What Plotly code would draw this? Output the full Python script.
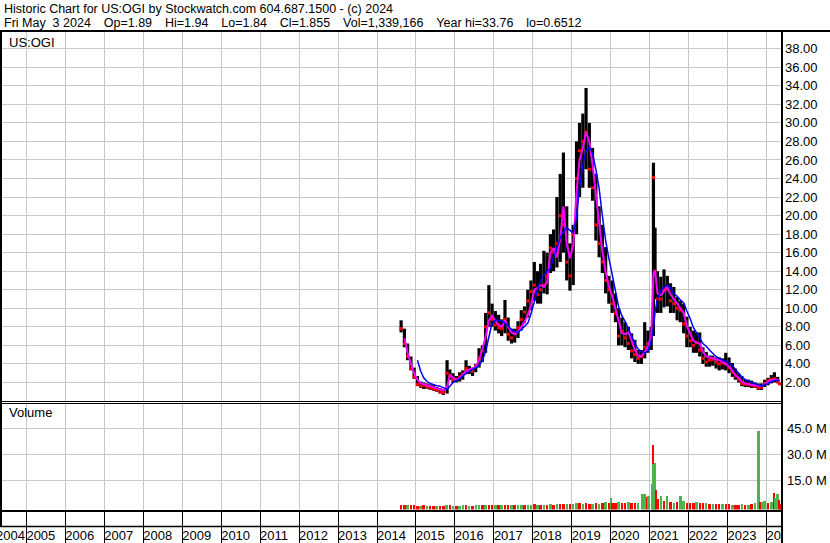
import plotly.graph_objects as go

W, H = 830, 543

# ---------------- data ----------------
price_dates = [
    "2014-08-15", "2014-09-15", "2014-10-15", "2014-11-15", "2014-12-15",
    "2015-01-15", "2015-02-15", "2015-03-15", "2015-04-15", "2015-05-15", "2015-06-15",
    "2015-07-15", "2015-08-15", "2015-09-15", "2015-10-20", "2015-11-15", "2015-12-15",
    "2016-01-15", "2016-02-15", "2016-03-15", "2016-04-15", "2016-05-15", "2016-06-15",
    "2016-07-15", "2016-08-15", "2016-09-15", "2016-10-15", "2016-11-15", "2016-12-15",
    "2017-01-15", "2017-02-15", "2017-03-15", "2017-04-15", "2017-05-15", "2017-06-15",
    "2017-07-15", "2017-08-15", "2017-09-15", "2017-10-15", "2017-11-15", "2017-12-15",
    "2018-01-15", "2018-02-15", "2018-03-15", "2018-04-15", "2018-05-15", "2018-06-15",
    "2018-07-15", "2018-08-15", "2018-09-15", "2018-10-15", "2018-11-15", "2018-12-15",
    "2019-01-15", "2019-02-15", "2019-03-15", "2019-04-15", "2019-05-15", "2019-06-15",
    "2019-07-15", "2019-08-15", "2019-09-15", "2019-10-15", "2019-11-15", "2019-12-15",
    "2020-01-15", "2020-02-15", "2020-03-15", "2020-04-15", "2020-05-15", "2020-06-15",
    "2020-07-15", "2020-08-15", "2020-09-15", "2020-10-15", "2020-11-15", "2020-12-15",
    "2021-01-15", "2021-02-05", "2021-02-20", "2021-03-15", "2021-04-15", "2021-05-15",
    "2021-06-15", "2021-07-15", "2021-08-15", "2021-09-15", "2021-10-15", "2021-11-15",
    "2021-12-15",
    "2022-01-15", "2022-02-15", "2022-03-15", "2022-04-15", "2022-05-15", "2022-06-15",
    "2022-07-15", "2022-08-15", "2022-09-15", "2022-10-15", "2022-11-15", "2022-12-15",
    "2023-01-15", "2023-02-15", "2023-03-15", "2023-04-15", "2023-05-15", "2023-06-15",
    "2023-07-15", "2023-08-15", "2023-09-15", "2023-10-15", "2023-11-15", "2023-12-15",
    "2024-01-15", "2024-02-15", "2024-03-15", "2024-04-15", "2024-05-02",
]
price_high = [
    8.7, 7.8, 6.2, 4.8, 3.6,
    2.7, 2.1, 2.0, 1.9, 1.8, 1.7, 1.5, 1.4, 1.3, 4.4, 3.4, 3.0,
    2.7, 3.1, 3.3, 4.4, 3.8, 3.6, 4.0, 5.7, 6.0, 9.5, 12.5, 10.5,
    9.7, 9.3, 8.8, 10.9, 9.0, 7.8, 7.8, 8.6, 9.8, 10.2, 12.0, 13.0,
    15.0, 14.0, 14.8, 16.2, 16.0, 18.0, 18.5, 22.0, 24.5, 26.8, 21.0, 17.0,
    19.0, 28.0, 30.0, 31.0, 33.76, 30.0, 27.3, 24.5, 21.0, 19.0, 16.6, 13.5,
    13.0, 11.6, 10.0, 9.0, 8.5, 8.0, 7.3, 6.6, 5.5, 5.5, 8.5, 7.6,
    8.0, 25.7, 18.7, 14.0, 13.4, 14.2, 13.5, 12.7, 12.3, 11.2, 10.8, 10.5, 9.1,
    8.0, 7.6, 7.4, 7.4, 5.8, 5.3, 4.9, 4.9, 4.7, 4.7, 4.6, 5.2,
    4.7, 4.1, 3.5, 3.0, 2.7, 2.3, 2.3, 2.2, 2.0, 1.9, 1.9, 2.3,
    2.5, 2.8, 3.1, 2.6, 1.94,
]
price_low = [
    7.4, 5.8, 4.4, 3.3, 2.4,
    1.6, 1.4, 1.3, 1.3, 1.2, 1.1, 1.0, 0.8, 0.65, 0.8, 2.3, 2.0,
    2.0, 2.1, 2.3, 2.9, 2.9, 2.7, 3.1, 3.6, 4.2, 5.2, 8.0, 8.0,
    7.6, 7.3, 7.0, 7.3, 6.5, 6.2, 6.3, 6.8, 7.6, 8.4, 9.0, 9.8,
    10.8, 10.5, 10.5, 11.6, 11.5, 13.8, 14.0, 14.4, 15.0, 16.0, 13.0, 11.9,
    12.5, 18.0, 22.0, 23.0, 25.0, 23.0, 21.6, 17.3, 15.5, 13.8, 11.6, 10.5,
    9.5, 8.5, 6.0, 6.0, 5.8, 5.5, 4.6, 4.2, 4.0, 4.0, 4.6, 5.2,
    5.5, 7.0, 11.0, 9.5, 9.5, 10.1, 10.2, 9.5, 9.5, 8.7, 8.5, 7.3, 5.8,
    5.8, 5.2, 5.2, 4.8, 4.0, 3.7, 3.7, 3.8, 3.5, 3.3, 3.4, 3.3,
    3.0, 2.6, 2.3, 2.0, 1.6, 1.5, 1.5, 1.4, 1.4, 1.2, 1.2, 1.5,
    1.7, 1.9, 2.0, 1.9, 1.84,
]
price_close = [
    7.8, 6.2, 4.8, 3.5, 2.6,
    1.8, 1.6, 1.7, 1.5, 1.4, 1.3, 1.2, 1.0, 0.9, 3.0, 2.7, 2.3,
    2.3, 2.6, 2.9, 3.5, 3.3, 3.2, 3.8, 4.6, 5.4, 8.0, 9.5, 8.8,
    8.2, 7.9, 7.8, 8.8, 7.2, 6.8, 7.3, 7.9, 8.8, 9.6, 10.8, 11.8,
    12.5, 11.5, 12.0, 12.5, 13.5, 16.5, 16.0, 17.0, 20.0, 19.0, 15.0, 13.5,
    18.0, 24.0, 27.0, 28.0, 29.0, 25.0, 23.0, 19.0, 17.0, 15.0, 13.0, 12.0,
    10.5, 9.5, 7.0, 7.5, 6.8, 6.2, 5.4, 5.0, 4.6, 4.8, 5.8, 6.2,
    7.0, 24.1, 14.0, 11.0, 11.0, 12.0, 12.0, 10.8, 10.5, 10.0, 9.8, 8.3, 7.0,
    6.5, 6.0, 6.3, 5.5, 4.6, 4.2, 4.4, 4.5, 4.2, 4.0, 4.1, 4.0,
    3.6, 3.1, 2.7, 2.3, 1.9, 1.8, 1.8, 1.7, 1.6, 1.4, 1.5, 1.9,
    2.2, 2.3, 2.4, 2.1, 1.855,
]
ma_short = [  # magenta average
    None, 6.8, 5.2, 4.0, 3.0,
    2.3, 1.9, 1.8, 1.7, 1.6, 1.5, 1.4, 1.25, 1.15, 1.5, 2.8, 2.5,
    2.3, 2.5, 2.8, 3.2, 3.4, 3.5, 3.7, 4.4, 5.6, 6.9, 8.7, 9.2,
    8.6, 8.2, 8.0, 8.7, 8.0, 7.4, 7.2, 7.5, 8.0, 8.5, 9.3, 10.3,
    12.0, 12.2, 12.5, 12.3, 12.8, 16.0, 16.5, 15.5, 17.5, 21.0, 17.0, 15.4,
    16.8, 22.5, 26.0, 27.3, 29.0, 28.0, 25.5, 22.5, 19.0, 16.2, 13.9, 12.4,
    11.3, 10.0, 8.5, 7.3, 7.2, 7.4, 6.5, 5.5, 4.9, 4.8, 5.3, 5.8,
    7.0, 13.7, 14.1, 11.6, 11.4, 11.9, 12.3, 11.5, 11.0, 10.6, 10.0, 9.5, 8.1,
    7.2, 6.5, 6.3, 6.2, 5.3, 4.8, 4.7, 4.6, 4.5, 4.4, 4.2, 4.0,
    3.7, 3.3, 2.8, 2.5, 2.1, 1.9, 1.8, 1.75, 1.7, 1.6, 1.6, 1.8,
    2.1, 2.3, 2.3, 2.3, 2.2,
]
ma_long = [  # blue average
    None, None, None, None, None,
    4.4, 3.2, 2.5, 2.1, 1.9, 1.75, 1.65, 1.6, 1.45, 1.25, 1.6, 2.0,
    2.2, 2.4, 2.7, 3.0, 3.2, 3.4, 3.6, 3.8, 4.4, 5.3, 6.9, 8.4,
    8.7, 8.7, 8.6, 8.4, 8.1, 7.7, 7.5, 7.4, 7.7, 8.0, 8.4, 9.4,
    10.8, 12.0, 13.0, 13.6, 14.0, 14.3, 15.5, 16.5, 17.6, 18.3, 18.7, 18.4,
    18.1, 19.8, 23.0, 25.5, 27.0, 27.4, 26.7, 25.0, 22.9, 20.0, 17.3, 15.4,
    13.5, 11.8, 10.2, 9.2, 8.6, 7.8, 7.0, 6.2, 5.6, 5.3, 5.2, 5.4,
    6.5, 7.8, 9.6, 11.0, 11.9, 12.3, 12.5, 12.2, 11.6, 11.3, 10.9, 10.6, 9.7,
    8.9, 7.9, 7.3, 6.8, 6.2, 5.9, 5.5, 5.1, 4.8, 4.6, 4.4, 4.3,
    4.1, 3.8, 3.4, 3.0, 2.6, 2.3, 2.15, 2.0, 1.85, 1.7, 1.6, 1.75,
    1.9, 2.1, 2.2, 2.2, 2.2,
]

vol_dates = [
    "2014-08-15", "2014-09-15", "2014-10-15", "2014-11-15", "2014-12-15",
    "2015-01-15", "2015-02-15", "2015-03-15", "2015-04-15", "2015-05-15", "2015-06-15",
    "2015-07-15", "2015-08-15", "2015-09-15", "2015-10-15", "2015-11-15", "2015-12-15",
    "2016-01-15", "2016-02-15", "2016-03-15", "2016-04-15", "2016-05-15", "2016-06-15",
    "2016-07-15", "2016-08-15", "2016-09-15", "2016-10-15", "2016-11-15", "2016-12-15",
    "2017-01-15", "2017-02-15", "2017-03-15", "2017-04-15", "2017-05-15", "2017-06-15",
    "2017-07-15", "2017-08-15", "2017-09-15", "2017-10-15", "2017-11-15", "2017-12-15",
    "2018-01-15", "2018-02-15", "2018-03-15", "2018-04-15", "2018-05-15", "2018-06-15",
    "2018-07-15", "2018-08-15", "2018-09-15", "2018-10-15", "2018-11-15", "2018-12-15",
    "2019-01-15", "2019-02-15", "2019-03-15", "2019-04-15", "2019-05-15", "2019-06-15",
    "2019-07-15", "2019-08-15", "2019-09-15", "2019-10-15", "2019-11-15", "2019-12-15",
    "2020-01-03", "2020-01-20", "2020-02-15", "2020-03-15", "2020-04-15", "2020-05-15",
    "2020-06-15", "2020-07-15", "2020-08-15", "2020-09-15", "2020-10-20", "2020-11-15",
    "2020-12-05", "2020-12-22",
    "2021-01-20", "2021-02-01", "2021-02-06", "2021-02-18", "2021-02-27", "2021-03-20",
    "2021-04-15", "2021-05-15", "2021-06-10", "2021-07-15", "2021-08-15", "2021-09-15",
    "2021-10-15", "2021-11-15", "2021-12-15",
    "2022-01-15", "2022-02-15", "2022-03-15", "2022-04-15", "2022-05-15", "2022-06-15",
    "2022-07-15", "2022-08-15", "2022-09-15", "2022-10-15", "2022-11-15", "2022-12-15",
    "2023-01-15", "2023-02-15", "2023-03-15", "2023-04-15", "2023-05-15", "2023-06-15",
    "2023-07-15", "2023-08-15", "2023-09-15", "2023-10-19", "2023-10-30", "2023-11-20",
    "2023-12-15",
    "2024-01-15", "2024-02-15", "2024-03-10", "2024-03-25", "2024-04-12", "2024-04-25",
    "2024-05-02",
]
vol_millions = [
    0.5, 0.4, 0.5, 0.4, 0.4,
    0.3, 0.3, 0.4, 0.3, 0.3, 0.3, 0.3, 0.3, 0.3, 0.6, 0.4, 0.3,
    0.3, 0.3, 0.4, 0.4, 0.3, 0.3, 0.4, 0.5, 0.4, 0.6, 0.7, 0.5,
    0.5, 0.4, 0.4, 0.6, 0.4, 0.4, 0.4, 0.4, 0.5, 0.5, 0.6, 0.7,
    0.9, 0.7, 0.6, 0.7, 0.8, 1.0, 0.8, 1.2, 1.0, 1.4, 1.0, 0.9,
    1.0, 1.6, 1.5, 1.3, 1.8, 1.4, 1.1, 1.6, 1.4, 2.0, 2.4, 1.8,
    4.5, 2.0, 1.8, 2.2, 1.6, 2.0,
    2.3, 1.8, 1.6, 2.0, 7.0, 6.8,
    5.0, 6.0,
    13.0, 35.0, 24.0, 25.0, 9.5, 4.0,
    6.0, 3.0, 6.0, 2.5, 2.0, 2.5,
    5.8, 3.0, 2.0,
    2.0, 1.6, 2.5, 1.8, 1.5, 1.5,
    1.2, 1.3, 1.1, 1.2, 1.0, 1.1,
    0.9, 0.8, 0.8, 0.7, 0.9, 0.8,
    0.7, 1.2, 1.5, 43.5, 2.6, 2.5,
    3.0,
    2.0, 2.5, 7.7, 4.6, 7.0, 3.6,
    1.3,
]
vol_up = [
    0, 0, 1, 0, 0,
    0, 1, 0, 1, 0, 0, 1, 0, 0, 1, 0, 1,
    0, 1, 1, 0, 1, 0, 1, 1, 0, 1, 0, 0,
    1, 0, 1, 0, 0, 1, 0, 1, 1, 0, 1, 1,
    0, 1, 0, 1, 0, 1, 0, 1, 0, 0, 1, 0,
    1, 1, 0, 1, 0, 0, 1, 0, 1, 0, 1, 0,
    1, 0, 0, 1, 0, 0,
    1, 0, 0, 1, 1, 1,
    0, 1,
    1, 0, 1, 1, 0, 0,
    1, 0, 1, 0, 1, 0,
    1, 1, 0,
    0, 0, 1, 0, 0, 1,
    0, 1, 0, 0, 1, 0,
    0, 1, 0, 0, 1, 0,
    1, 0, 1, 1, 0, 1,
    1,
    0, 1, 0, 1, 1, 0,
    0,
]

year_labels = list(range(2004, 2025))
price_ticks = [2, 4, 6, 8, 10, 12, 14, 16, 18, 20, 22, 24, 26, 28, 30, 32, 34, 36, 38]
vol_ticks = [15, 30, 45]
vol_tick_text = ["15.0 M", "30.0 M", "45.0 M"]

SEP = "\u00a0\u00a0\u00a0\u2009"
header_line1 = "Historic Chart for US:OGI by Stockwatch.com 604.687.1500 - (c) 2024"
header_line2 = SEP.join([
    "Fri May\u00a0\u00a03 2024", "Op=1.89", "Hi=1.94", "Lo=1.84", "Cl=1.855",
    "Vol=1,339,166", "Year hi=33.76", "lo=0.6512",
])

# ---------------- layout geometry (pixels) ----------------
def px_x(px):
    return px / W

def px_y(py):
    return 1 - py / H

X_LEFT, X_RIGHT = 2, 781
PRICE_TOP, PRICE_BOT = 32, 401
VOL_TOP, VOL_BOT = 404, 509.5
LAB_TOP = 512

X_RANGE = ["2004-05-17", "2024-05-16"]
PRICE_RANGE = [0, 39.8]
VOL_MIN = -2.0
VOL_RANGE = [VOL_MIN, 58.9]

FONT = "Liberation Sans, Arial, sans-serif"
GRID = "#c8c8c8"

fig = go.Figure()

# high-low bars
seg_x, seg_y = [], []
for d, hi, lo in zip(price_dates, price_high, price_low):
    seg_x += [d, d, None]
    seg_y += [lo, hi, None]
fig.add_trace(go.Scatter(x=seg_x, y=seg_y, mode="lines",
                         line=dict(color="#000000", width=3.2),
                         xaxis="x", yaxis="y", hoverinfo="skip"))
fig.add_trace(go.Scatter(x=price_dates, y=price_close, mode="markers",
                         marker=dict(color="#ff0000", size=3, symbol="square",
                                     line=dict(width=0)),
                         xaxis="x", yaxis="y"))
fig.add_trace(go.Scatter(x=price_dates, y=ma_short, mode="lines",
                         line=dict(color="#ff00ff", width=2),
                         xaxis="x", yaxis="y"))
fig.add_trace(go.Scatter(x=price_dates, y=ma_long, mode="lines",
                         line=dict(color="#0000ff", width=1.5),
                         xaxis="x", yaxis="y"))

# volume bars drawn from the panel floor up to the volume value
bar_colors = ["#4db34d" if u else "#ff0000" for u in vol_up]
fig.add_trace(go.Bar(x=vol_dates, y=[v - VOL_MIN for v in vol_millions],
                     base=[VOL_MIN] * len(vol_millions),
                     marker=dict(color=bar_colors, line=dict(width=0)),
                     width=2.0e9, xaxis="x2", yaxis="y2"))

# year labels in the bottom strip (first one is partly outside the axis, drawn below)
lab_years = year_labels[1:]
fig.add_trace(go.Scatter(x=[f"{y}-01-01" for y in lab_years], y=[6] * len(lab_years),
                         mode="text", text=[str(y) for y in lab_years],
                         textposition="middle right", cliponaxis=True,
                         textfont=dict(family=FONT, size=13, color="#000000"),
                         xaxis="x3", yaxis="y3"))

xcommon = dict(type="date", range=X_RANGE, domain=[px_x(X_LEFT), px_x(X_RIGHT)],
               tick0="2005-01-01", dtick="M12", showticklabels=False,
               ticks="", zeroline=False, showline=False, fixedrange=True)

fig.update_layout(
    width=W, height=H,
    margin=dict(l=0, r=0, t=0, b=0),
    paper_bgcolor="#ffffff", plot_bgcolor="#ffffff",
    showlegend=False, bargap=0,
    font=dict(family=FONT, size=13, color="#000000"),
    xaxis=dict(**xcommon, anchor="y", showgrid=True, gridcolor=GRID, gridwidth=1),
    xaxis2=dict(**xcommon, anchor="y2", showgrid=True, gridcolor=GRID, gridwidth=1),
    xaxis3=dict(**xcommon, anchor="y3", showgrid=True, gridcolor="#000000", gridwidth=1),
    yaxis=dict(domain=[px_y(PRICE_BOT), px_y(PRICE_TOP)], range=PRICE_RANGE,
               side="right", anchor="x", tickvals=price_ticks, tickformat=".2f",
               showgrid=True, gridcolor=GRID, gridwidth=1, zeroline=False,
               showline=False, ticks="", ticklabelstandoff=3,
               tickfont=dict(family=FONT, size=13, color="#000000")),
    yaxis2=dict(domain=[px_y(VOL_BOT), px_y(VOL_TOP)], range=VOL_RANGE,
                side="right", anchor="x2", tickvals=vol_ticks, ticktext=vol_tick_text,
                showgrid=True, gridcolor=GRID, gridwidth=1, zeroline=False,
                showline=False, ticks="", ticklabelstandoff=5,
                tickfont=dict(family=FONT, size=13, color="#000000")),
    yaxis3=dict(domain=[0, px_y(LAB_TOP)], range=[0, 31], anchor="x3",
                showgrid=False, showticklabels=False, zeroline=False, showline=False),
)

def hline(py, x0, x1, w):
    return dict(type="line", xref="paper", yref="paper", x0=px_x(x0), x1=px_x(x1),
                y0=px_y(py), y1=px_y(py), line=dict(color="#000000", width=w), layer="above")

def vline(px, y0, y1, w):
    return dict(type="line", xref="paper", yref="paper", x0=px_x(px), x1=px_x(px),
                y0=px_y(y0), y1=px_y(y1), line=dict(color="#000000", width=w), layer="above")

fig.update_layout(shapes=[
    hline(31, 0, W, 2),
    vline(1, 30, 526, 2),
    vline(782, 30, H, 2),
    hline(401.5, 0, 782, 1),
    hline(403.5, 0, 782, 1),
    hline(511, 0, 782, 2),
    hline(526.5, 0, 782, 1.5),
])

fig.update_layout(annotations=[
    dict(text=header_line1, xref="paper", yref="paper", x=px_x(2), y=px_y(9),
         xanchor="left", yanchor="middle", showarrow=False,
         font=dict(family=FONT, size=12.5, color="#000000")),
    dict(text=header_line2, xref="paper", yref="paper", x=px_x(2), y=px_y(23),
         xanchor="left", yanchor="middle", showarrow=False,
         font=dict(family=FONT, size=12.5, color="#000000")),
    dict(text="US:OGI", xref="paper", yref="paper", x=px_x(7), y=px_y(42),
         xanchor="left", yanchor="middle", showarrow=False,
         font=dict(family=FONT, size=13, color="#000000")),
    dict(text="Volume", xref="paper", yref="paper", x=px_x(7), y=px_y(413),
         xanchor="left", yanchor="middle", showarrow=False,
         font=dict(family=FONT, size=13, color="#000000")),
    dict(text=str(year_labels[0]), xref="x3", yref="paper", x="2005-01-01",
         y=px_y(535), xanchor="right", yanchor="middle", showarrow=False, xshift=1,
         font=dict(family=FONT, size=13, color="#000000")),
])

fig.write_html(
    "out.html",
    config={"displayModeBar": False, "responsive": False},
    post_script="document.body.style.margin='0';document.body.style.overflow='hidden';",
)
